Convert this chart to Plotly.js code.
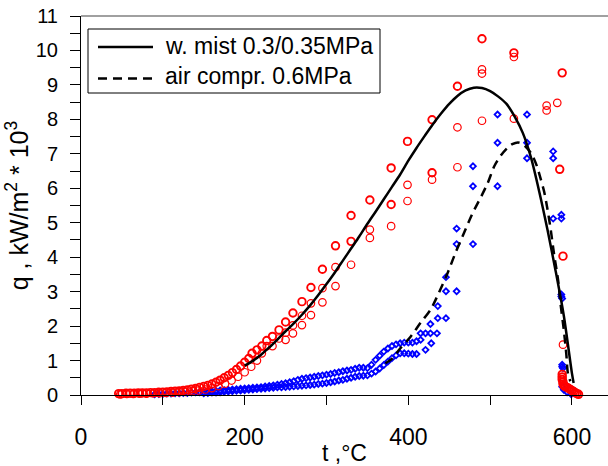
<!DOCTYPE html>
<html><head><meta charset="utf-8">
<script src="https://cdn.plot.ly/plotly-3.0.1.min.js"></script>
<style>html,body{margin:0;padding:0;background:#fff}#chart{width:608px;height:466px}</style>
</head><body><div id="chart"></div>
<script>
// ---- data (t in °C, q in kW/m2 * 10^3) ----
// water mist, run A (bold circles)
var mistA_t = [46,50,55,60,65,70,75,80,85,90,95,100,105,110,115,120,125,130,135,140,145,150,155,160,165,170,175,180,185,190,195,200,205,
  209,215,221,227,234,242,250,259,270,281,295,311,330,330,353,379,379,399,429,429,460,490,529,588,585,589,
  588,588,588,589,589,590,591,592,594,596,598,600,602,604,606,608];
var mistA_q = [0.04,0.04,0.05,0.05,0.05,0.06,0.06,0.06,0.07,0.07,0.08,0.08,0.09,0.10,0.11,0.12,0.13,0.15,0.17,0.19,0.22,0.25,0.28,0.32,0.37,0.43,0.50,0.57,0.65,0.74,0.84,0.95,1.06,
  1.21,1.31,1.42,1.58,1.70,1.89,2.12,2.38,2.71,3.12,3.65,4.33,5.21,4.46,5.66,6.59,5.53,7.36,7.99,6.45,8.96,10.34,9.93,9.35,6.55,4.03,
  0.60,0.52,0.45,0.38,0.32,0.28,0.26,0.24,0.22,0.19,0.16,0.13,0.10,0.07,0.04,0.02];
// water mist, run B (thin circles)
var mistB_t = [48,56,64,72,80,88,96,104,112,120,128,136,144,152,160,168,176,184,192,200,208,
  215,221,227,234,242,250,250,259,259,270,270,281,281,295,295,311,311,330,353,353,379,399,399,429,460,460,490,490,490,529,529,569,569,582,589,588];
var mistB_q = [0.02,0.03,0.03,0.04,0.04,0.05,0.05,0.06,0.07,0.08,0.09,0.11,0.13,0.16,0.20,0.26,0.33,0.42,0.53,0.66,0.82,
  1.00,1.21,1.42,1.42,1.64,1.81,1.60,2.02,1.79,2.30,2.03,2.66,2.32,3.10,2.69,3.71,3.16,3.78,4.80,4.56,4.90,6.10,5.63,6.25,7.77,6.61,9.45,9.33,7.96,9.81,8.02,8.40,8.26,8.48,1.46,0.53];
// compressed air, upper run (diamonds)
var airU_t = [90,95,100,105,110,115,120,125,130,135,140,145,150,155,160,165,170,175,180,185,190,195,200,205,210,215,220,225,230,235,240,245,250,255,260,265,270,275,280,285,290,295,300,305,310,315,320,325,330,335,340,345,350,355,360,365,370,375,380,385,390,395,400,405,410,
  415,421,427,435,427,436,446,436,446,446,459,459,459,479,479,479,509,509,509,545,545,545,577,577,577,587,587,587,587,588,588,588,589,588,590,594,599];
var airU_q = [0.02,0.03,0.03,0.04,0.04,0.05,0.05,0.06,0.06,0.07,0.08,0.08,0.09,0.10,0.11,0.12,0.13,0.14,0.15,0.16,0.17,0.18,0.19,0.20,0.21,0.22,0.23,0.25,0.26,0.28,0.30,0.32,0.34,0.37,0.40,0.44,0.47,0.49,0.51,0.53,0.55,0.57,0.59,0.61,0.64,0.66,0.69,0.71,0.73,0.76,0.79,0.79,0.78,0.88,1.02,1.14,1.26,1.35,1.42,1.47,1.50,1.52,1.52,1.52,1.56,
  1.79,1.79,1.79,1.79,2.06,2.23,2.23,2.58,3.01,3.42,3.01,4.38,4.83,4.38,6.06,6.64,6.06,7.32,8.14,8.14,7.32,6.87,7.07,6.87,5.12,5.23,5.12,2.92,2.86,2.80,0.88,0.82,0.78,0.24,0.15,0.08,0.02];
// compressed air, lower run (diamonds)
var airL_t = [150,155,160,165,170,175,180,185,190,195,200,205,210,215,220,225,230,235,240,245,250,255,260,265,270,275,280,285,290,295,300,305,310,315,320,325,330,335,340,345,350,355,360,365,370,375,380,385,390,395,400,405,410,415,421,428];
var airL_q = [0.05,0.06,0.07,0.07,0.08,0.09,0.10,0.11,0.12,0.13,0.14,0.15,0.16,0.17,0.18,0.19,0.20,0.21,0.22,0.22,0.23,0.24,0.25,0.26,0.27,0.28,0.29,0.30,0.32,0.33,0.35,0.37,0.39,0.42,0.44,0.47,0.50,0.53,0.55,0.56,0.57,0.62,0.68,0.77,0.87,0.97,1.07,1.15,1.21,1.21,1.20,1.19,1.19,1.60,1.31,1.50];
// fitted curves
var fitMist_t = [200,210,220,230,240,250,260,270,280,290,300,310,320,330,340,350,360,370,380,390,400,410,420,430,440,450,460,470,480,490,500,510,520,530,540,550,560,570,580,590,600,602];
var fitMist_q = [0.85,0.99,1.17,1.38,1.61,1.85,2.08,2.33,2.60,2.90,3.22,3.55,3.90,4.25,4.60,4.97,5.32,5.68,6.04,6.40,6.80,7.17,7.52,7.86,8.17,8.45,8.68,8.84,8.92,8.91,8.82,8.66,8.45,8.08,7.60,6.88,5.90,4.80,3.60,2.30,0.62,0.35];
var fitAir_t = [372,380,390,403,415,427,437,448,458,468,478,489,497,505,513,521,527,534,540,550,557,562,566,570,574,578,583,586,590,593,595,598];
var fitAir_q = [0.92,1.05,1.35,1.70,2.10,2.47,2.95,3.54,4.15,4.70,5.25,5.76,6.15,6.64,6.95,7.17,7.28,7.33,7.28,7.02,6.65,6.25,5.90,5.40,4.80,4.10,3.34,2.65,1.89,1.20,0.63,0.40];

var legendLabels = ['w. mist 0.3/0.35MPa', 'air compr. 0.6MPa'];
var xTitle = 't ,°C';
var yTitle = 'q , kW/m<sup>2</sup> * 10<sup>3</sup>';

// ---- traces ----
var RED = '#ff0000', BLUE = '#0000ff';
var traces = [
  {x: airL_t, y: airL_q, mode: 'markers', type: 'scatter', cliponaxis: false, showlegend: false,
   marker: {symbol: 'diamond-open', size: 4.5, color: BLUE, line: {width: 1.8, color: BLUE}}},
  {x: airU_t, y: airU_q, mode: 'markers', type: 'scatter', cliponaxis: false, showlegend: false,
   marker: {symbol: 'diamond-open', size: 4.5, color: BLUE, line: {width: 1.8, color: BLUE}}},
  {x: mistB_t, y: mistB_q, mode: 'markers', type: 'scatter', cliponaxis: false, showlegend: false,
   marker: {symbol: 'circle-open', size: 7.5, color: RED, line: {width: 1.2, color: RED}}},
  {x: mistA_t, y: mistA_q, mode: 'markers', type: 'scatter', cliponaxis: false, showlegend: false,
   marker: {symbol: 'circle-open', size: 7.5, color: RED, line: {width: 1.9, color: RED}}},
  {x: fitMist_t, y: fitMist_q, mode: 'lines', type: 'scatter', name: legendLabels[0], showlegend: false,
   line: {color: '#000', width: 2.5, shape: 'spline', smoothing: 0.8}},
  {x: fitAir_t, y: fitAir_q, mode: 'lines', type: 'scatter', name: legendLabels[1], showlegend: false,
   line: {color: '#000', width: 2.5, dash: '9px,6px', shape: 'spline', smoothing: 0.8}}
];

function px2x(px){ return (px - 81) / 527; }
function py2y(py){ return (395 - py) / 379; }

var layout = {
  width: 608, height: 466,
  margin: {l: 81, r: 0, t: 16, b: 71, pad: 0},
  paper_bgcolor: '#fff', plot_bgcolor: '#fff',
  font: {family: 'Liberation Sans, Arial, sans-serif', color: '#000', size: 20},
  showlegend: false,
  xaxis: {
    range: [0, 644], showgrid: false, zeroline: false,
    showline: true, linecolor: '#000', linewidth: 1,
    ticks: 'outside', ticklen: 9, tickwidth: 1, tickcolor: '#000',
    tick0: 0, dtick: 200,
    minor: {dtick: 100, ticks: 'outside', ticklen: 9, tickwidth: 1, tickcolor: '#000'},
    tickfont: {size: 23}, ticklabelstandoff: 12,
    title: {text: xTitle, font: {size: 23}, standoff: 0}
  },
  yaxis: {
    range: [0, 11], showgrid: false, zeroline: false,
    showline: true, linecolor: '#000', linewidth: 1,
    ticks: 'outside', ticklen: 10, tickwidth: 1, tickcolor: '#000',
    tick0: 0, dtick: 1,
    minor: {dtick: 0.5, ticks: 'outside', ticklen: 10, tickwidth: 1, tickcolor: '#000'},
    tickfont: {size: 20}, ticklabelstandoff: 8,
    title: {text: yTitle, font: {size: 25}, standoff: 0}
  },
  shapes: [
    {type: 'line', xref: 'paper', yref: 'paper', x0: 0, x1: 1, y0: 1, y1: 1, line: {color: '#808080', width: 1.5}},
    {type: 'rect', xref: 'paper', yref: 'paper', x0: px2x(88), x1: px2x(380), y0: py2y(93), y1: py2y(29),
     line: {color: '#000', width: 1}, fillcolor: 'rgba(255,255,255,0)', layer: 'above'},
    {type: 'line', xref: 'paper', yref: 'paper', x0: px2x(98), x1: px2x(153), y0: py2y(47), y1: py2y(47),
     line: {color: '#000', width: 2.5}},
    {type: 'line', xref: 'paper', yref: 'paper', x0: px2x(98), x1: px2x(153), y0: py2y(78.5), y1: py2y(78.5),
     line: {color: '#000', width: 2.5, dash: '9px,6px'}}
  ],
  annotations: [
    {xref: 'paper', yref: 'paper', x: px2x(163), y: py2y(46), xanchor: 'left', yanchor: 'middle',
     text: legendLabels[0], showarrow: false, font: {size: 23}},
    {xref: 'paper', yref: 'paper', x: px2x(163), y: py2y(76), xanchor: 'left', yanchor: 'middle',
     text: legendLabels[1], showarrow: false, font: {size: 23}}
  ]
};

Plotly.newPlot('chart', traces, layout, {displayModeBar: false, staticPlot: true});
</script></body></html>
